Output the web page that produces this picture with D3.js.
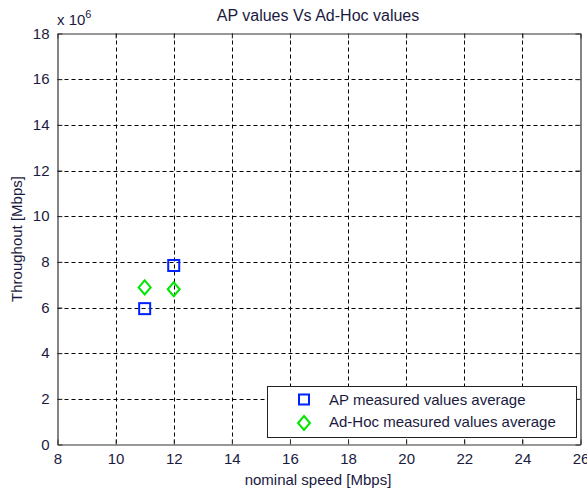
<!DOCTYPE html>
<html><head><meta charset="utf-8">
<script src="https://cdn.jsdelivr.net/npm/d3@7"></script>
<style>body{margin:0;background:#fff}svg{display:block}text{font-family:"Liberation Sans",Arial,sans-serif}</style>
</head><body><svg id="c" width="587" height="490"></svg>
<script>
const xTicks = [8,10,12,14,16,18,20,22,24,26];
const yTicks = [0,2,4,6,8,10,12,14,16,18];
const apX = [11, 12];
const apY = [5.95, 7.84];
const adhocX = [11, 12];
const adhocY = [6.88, 6.8];
const seriesNames = ["AP measured values average", "Ad-Hoc measured values average"];

const svg = d3.select("#c");
svg.append("rect").attr("width",587).attr("height",490).attr("fill","#fff");
const L=57.5, R=580.5, T=33.5, B=444.5;
const x = d3.scaleLinear().domain([8,26]).range([L,R]);
const y = d3.scaleLinear().domain([0,18]).range([B,T]);
const FS = 15, TXT = "#1a1a40";

const g = svg.append("g");
g.selectAll(".gx").data(xTicks.slice(1,-1)).join("line")
  .attr("x1",d=>Math.round(x(d))+0.5).attr("x2",d=>Math.round(x(d))+0.5).attr("y1",T).attr("y2",B)
  .attr("stroke","#000").attr("stroke-width",1).attr("stroke-dasharray","4,3");
g.selectAll(".gy").data(yTicks.slice(1,-1)).join("line")
  .attr("y1",d=>Math.round(y(d))+0.5).attr("y2",d=>Math.round(y(d))+0.5).attr("x1",L).attr("x2",R)
  .attr("stroke","#000").attr("stroke-width",1).attr("stroke-dasharray","4,3");

const xb = d3.axisBottom(x).tickValues(xTicks).tickSizeInner(-5).tickSizeOuter(0).tickPadding(9);
const xt = d3.axisTop(x).tickValues(xTicks).tickSizeInner(-5).tickSizeOuter(0).tickFormat("");
const yl = d3.axisLeft(y).tickValues(yTicks).tickSizeInner(-5).tickSizeOuter(0).tickPadding(8);
const yr = d3.axisRight(y).tickValues(yTicks).tickSizeInner(-5).tickSizeOuter(0).tickFormat("");
function style(sel){
  sel.select(".domain").attr("stroke","#333").attr("stroke-width",1.2);
  sel.selectAll(".tick line").attr("stroke","#333");
  sel.selectAll(".tick text").attr("fill",TXT).attr("font-size",FS).attr("font-family","Liberation Sans, Arial, sans-serif");
}
svg.append("g").attr("transform",`translate(0,${B})`).call(xb).call(style);
svg.append("g").attr("transform",`translate(0,${T})`).call(xt).call(style);
svg.append("g").attr("transform",`translate(${L},0)`).call(yl).call(style);
svg.append("g").attr("transform",`translate(${R},0)`).call(yr).call(style);

const s = 11;
svg.append("g").selectAll("rect").data(apX.map((d,i)=>[d,apY[i]])).join("rect")
  .attr("x",d=>x(d[0])-s/2).attr("y",d=>y(d[1])-s/2).attr("width",s).attr("height",s)
  .attr("fill","none").attr("stroke","#0022ff").attr("stroke-width",2);
const dia = (cx,cy)=>`M${cx},${cy-7}L${cx+6},${cy}L${cx},${cy+7}L${cx-6},${cy}Z`;
svg.append("g").selectAll("path").data(adhocX.map((d,i)=>[d,adhocY[i]])).join("path")
  .attr("d",d=>dia(x(d[0]),y(d[1])))
  .attr("fill","none").attr("stroke","#00e600").attr("stroke-width",2);

const lg = svg.append("g");
lg.append("rect").attr("x",267.5).attr("y",386.5).attr("width",309).attr("height",51)
  .attr("fill","#fff").attr("stroke","#222").attr("stroke-width",1);
lg.append("rect").attr("x",304-s/2+0.5).attr("y",400-s/2).attr("width",s-1).attr("height",s-1)
  .attr("fill","none").attr("stroke","#0022ff").attr("stroke-width",2);
lg.append("path").attr("d",dia(304,423)).attr("fill","none").attr("stroke","#00e600").attr("stroke-width",2);
lg.selectAll("text").data(seriesNames).join("text")
  .attr("x",329).attr("y",(d,i)=>405+i*22).attr("font-size",FS).attr("fill",TXT).text(d=>d);

svg.append("text").attr("x",318).attr("y",21).attr("text-anchor","middle").attr("font-size",FS+1).attr("fill",TXT).text("AP values Vs Ad-Hoc values");
svg.append("text").attr("x",318).attr("y",485).attr("text-anchor","middle").attr("font-size",FS).attr("fill",TXT).text("nominal speed [Mbps]");
svg.append("text").attr("transform","translate(22,239) rotate(-90)").attr("text-anchor","middle").attr("font-size",FS).attr("fill",TXT).text("Throughout [Mbps]");
const ex = svg.append("text").attr("x",57).attr("y",25).attr("font-size",FS).attr("fill",TXT);
ex.append("tspan").text("x 10");
ex.append("tspan").attr("dy",-7).attr("font-size",11).text("6");
</script></body></html>
